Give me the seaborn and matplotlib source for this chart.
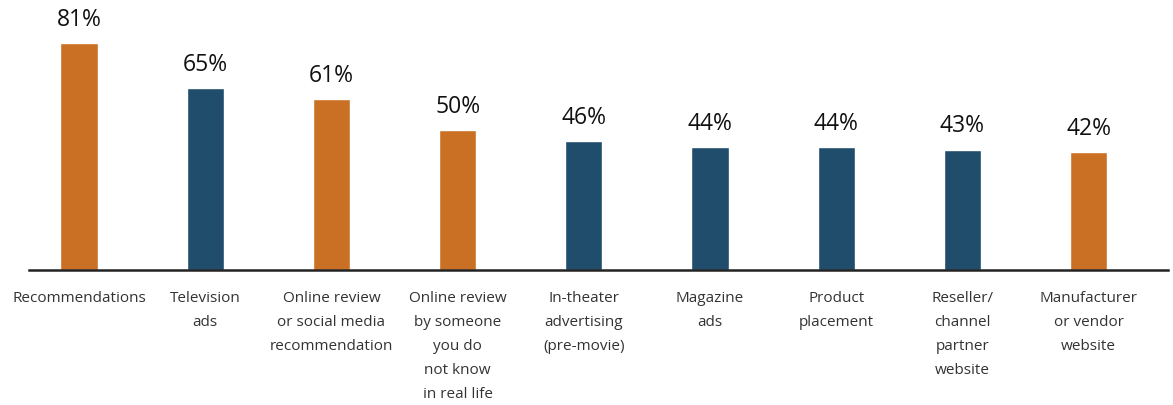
import matplotlib
matplotlib.use("Agg")
import matplotlib.pyplot as plt
import seaborn as sns
import pandas as pd

categories = [
    "Recommendations",
    "Television\nads",
    "Online review\nor social media\nrecommendation",
    "Online review\nby someone\nyou do\nnot know\nin real life",
    "In-theater\nadvertising\n(pre-movie)",
    "Magazine\nads",
    "Product\nplacement",
    "Reseller/\nchannel\npartner\nwebsite",
    "Manufacturer\nor vendor\nwebsite",
]
values = [81, 65, 61, 50, 46, 44, 44, 43, 42]
groups = ["orange", "blue", "orange", "orange", "blue", "blue", "blue", "blue", "orange"]
value_labels = ["81%", "65%", "61%", "50%", "46%", "44%", "44%", "43%", "42%"]

palette = {"orange": "#CA7025", "blue": "#1F4D6B"}

sns.set_theme(style="white")
plt.rcParams["font.family"] = ["Open Sans", "DejaVu Sans"]

df = pd.DataFrame({"cat": categories, "val": values, "grp": groups})

fig = plt.figure(figsize=(11.73, 4.05), dpi=100)
ax = fig.add_axes([29 / 1173, 135 / 405, (1168 - 29) / 1173, 270 / 405])

sns.barplot(data=df, x="cat", y="val", hue="grp", palette=palette,
            order=categories, dodge=False, width=0.295, legend=False, ax=ax,
            saturation=1)

ax.set_xlim(-0.397, 8.63)
ax.set_ylim(0, 96.4)

for i, (v, lab) in enumerate(zip(values, value_labels)):
    ax.annotate(lab, (i, v), xytext=(0, 8), textcoords="offset points",
                ha="center", va="bottom", fontsize=16.5, color="#111111")

for s in ["top", "right", "left"]:
    ax.spines[s].set_visible(False)
ax.spines["bottom"].set_color("#222222")
ax.spines["bottom"].set_linewidth(1.8)
ax.set_yticks([])
ax.set_xlabel("")
ax.set_ylabel("")
ax.tick_params(axis="x", length=0, pad=15)
for t in ax.get_xticklabels():
    t.set_fontsize(11)
    t.set_color("#333333")
    t.set_linespacing(1.82)
    t.set_verticalalignment("top")
    t.set_horizontalalignment("center")

fig.savefig("out.png", dpi=100)
